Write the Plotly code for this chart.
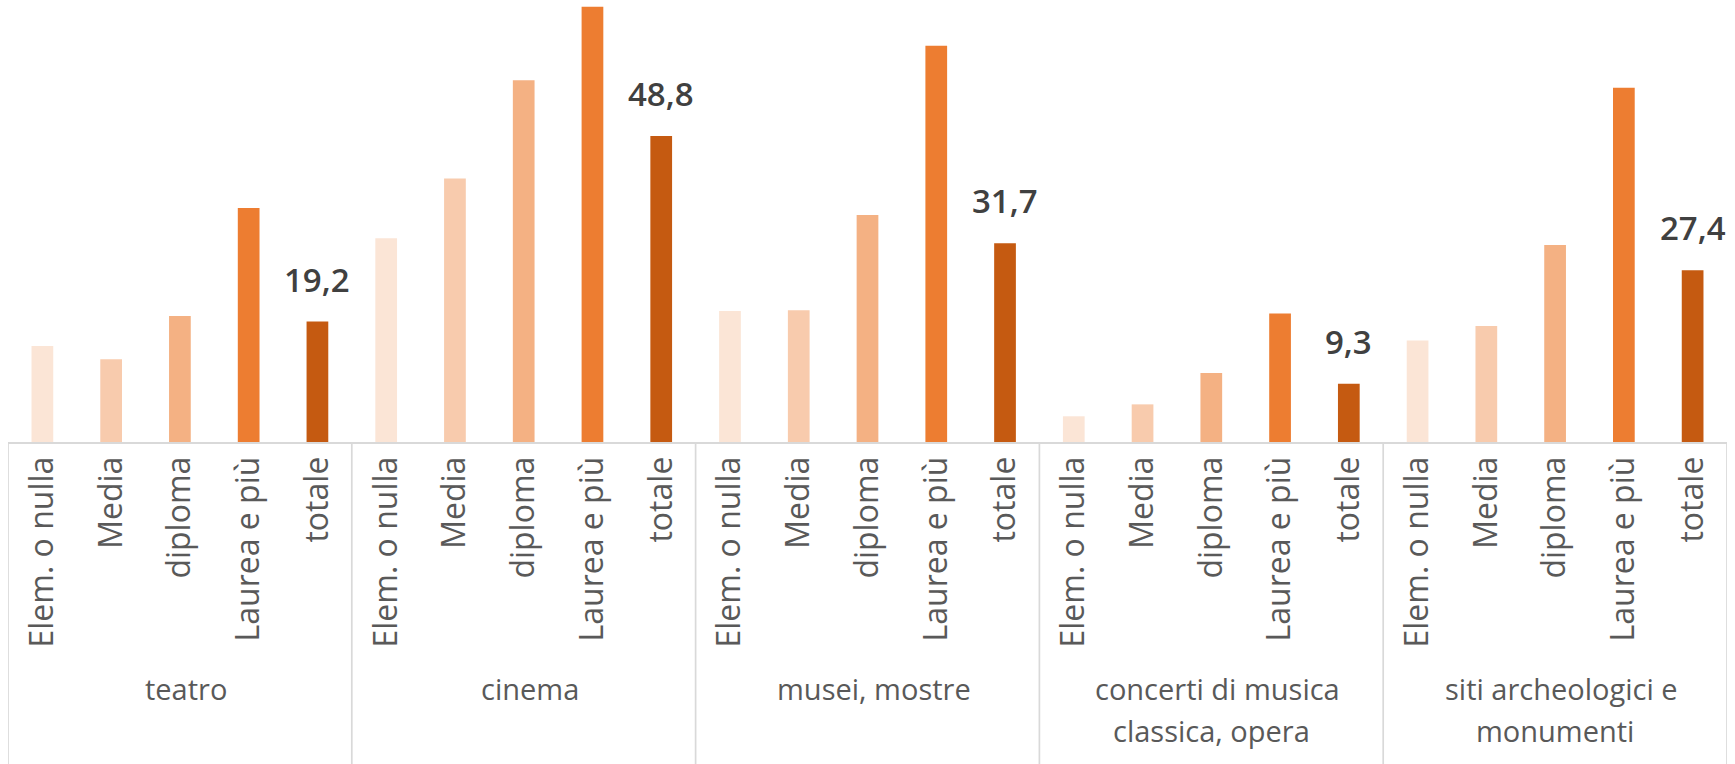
import plotly.graph_objects as go

# Attendance by activity and education level (%)
groups = ["teatro", "cinema", "musei, mostre",
          "concerti di musica\nclassica, opera",
          "siti archeologici e\nmonumenti"]
levels = ["Elem. o nulla", "Media", "diploma", "Laurea e più", "totale"]

elem = [15.3, 32.5, 20.9, 4.1, 16.2]
media = [13.2, 42.0, 21.0, 6.0, 18.5]
diploma = [20.1, 57.7, 36.2, 11.0, 31.4]
laurea = [37.3, 69.4, 63.2, 20.5, 56.5]
totale = [19.2, 48.8, 31.7, 9.3, 27.4]

series = [elem, media, diploma, laurea, totale]
colors = ["#FBE5D6", "#F8CBAD", "#F4B183", "#ED7D31", "#C55A11"]

n_lev = len(levels)
n_grp = len(groups)

FONT = "Open Sans, Segoe UI, Noto Sans, sans-serif"
GREY = "#595959"
LINE = "#D9D9D9"

fig = go.Figure()
for li, (name, vals, col) in enumerate(zip(levels, series, colors)):
    xs = [g * n_lev + li for g in range(n_grp)]
    fig.add_trace(go.Bar(
        x=xs, y=vals, name=name, marker_color=col,
        marker_line_width=0, width=0.316,
    ))

# value labels on the "totale" bars
for g, v in enumerate(totale):
    fig.add_annotation(
        x=g * n_lev + n_lev - 1, y=v, xref="x", yref="y",
        text=f"{v:.1f}".replace(".", ","), showarrow=False,
        yanchor="bottom", yshift=18,
        font=dict(family=FONT, size=33, color="#404040", weight=600),
    )

# group labels under the level labels
for g, label in enumerate(groups):
    for k, line in enumerate(label.split("\n")):
        fig.add_annotation(
            x=g * n_lev + (n_lev - 1) / 2, y=0, xref="x", yref="paper",
            text=line, showarrow=False, yanchor="top",
            xshift=6 if k == 0 else 0, yshift=-225 - 42 * k,
            font=dict(family=FONT, size=29, color=GREY),
        )

# vertical dividers between groups
for g in range(n_grp + 1):
    fig.add_shape(
        type="line", xref="x", yref="paper",
        x0=g * n_lev - 0.5, x1=g * n_lev - 0.5, y0=0, y1=-0.8,
        line=dict(color=LINE, width=1.7),
    )

fig.update_layout(
    width=1735, height=764,
    margin=dict(l=8, r=8, t=3, b=322),
    plot_bgcolor="white", paper_bgcolor="white",
    barmode="overlay", showlegend=False,
    xaxis=dict(
        range=[-0.5, n_grp * n_lev - 0.5],
        tickmode="array",
        tickvals=list(range(n_grp * n_lev)),
        ticktext=levels * n_grp,
        tickangle=-90,
        tickfont=dict(family=FONT, size=32, color=GREY),
        ticks="", ticklabelstandoff=0,
        showline=True, linecolor=LINE, linewidth=1.7,
        showgrid=False, zeroline=False,
    ),
    yaxis=dict(range=[0, 70], visible=False, showgrid=False),
)

fig.write_html("out.html")
